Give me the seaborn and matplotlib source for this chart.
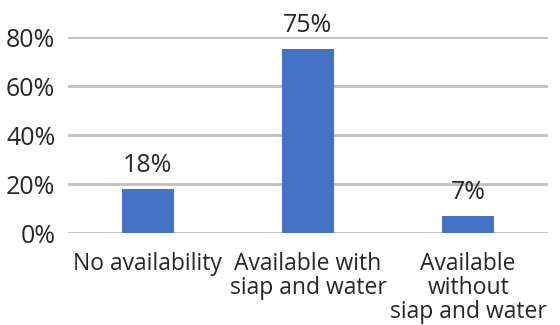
import matplotlib
matplotlib.use('Agg')
import matplotlib.pyplot as plt
import seaborn as sns
import pandas as pd
from matplotlib.ticker import PercentFormatter

categories = ['No availability', 'Available with\nsiap and water', 'Available\nwithout\nsiap and water']
shares = [0.18, 0.75, 0.07]
labels = ['18%', '75%', '7%']
yticks = [0, 0.2, 0.4, 0.6, 0.8]

sns.set_theme(style='white')
plt.rcParams['font.family'] = ['Open Sans', 'DejaVu Sans']

df = pd.DataFrame({'cat': categories, 'share': shares})

fig = plt.figure(figsize=(5.6, 3.25), dpi=100)
ax = fig.add_axes([0.121, 0.283, 0.858, 0.603])

sns.barplot(data=df, x='cat', y='share', color='#4472C4', saturation=1,
            width=0.325, linewidth=0, ax=ax)

# 数据标签
for i, (v, t) in enumerate(zip(shares, labels)):
    ax.annotate(t, (i, v), xytext=(0, 8), textcoords='offset points',
                ha='center', va='bottom', fontsize=18, color='#262626')

ax.set_ylim(0, 0.8)
ax.set_xlim(-0.5, 2.5)
ax.set_yticks(yticks)
ax.yaxis.set_major_formatter(PercentFormatter(1.0, decimals=0))
ax.grid(axis='y', color='#BFBFBF', linewidth=2)
ax.set_axisbelow(True)
for s in ax.spines.values():
    s.set_visible(False)
ax.set_xlabel('')
ax.set_ylabel('')
ax.tick_params(axis='y', labelsize=18, labelcolor='#262626', length=0, pad=9)
ax.tick_params(axis='x', labelsize=16.5, labelcolor='#262626', length=0, pad=14)
for lab in ax.get_xticklabels():
    lab.set_linespacing(1.0)
    lab.set_verticalalignment('top')

fig.savefig('out.png', dpi=100)
